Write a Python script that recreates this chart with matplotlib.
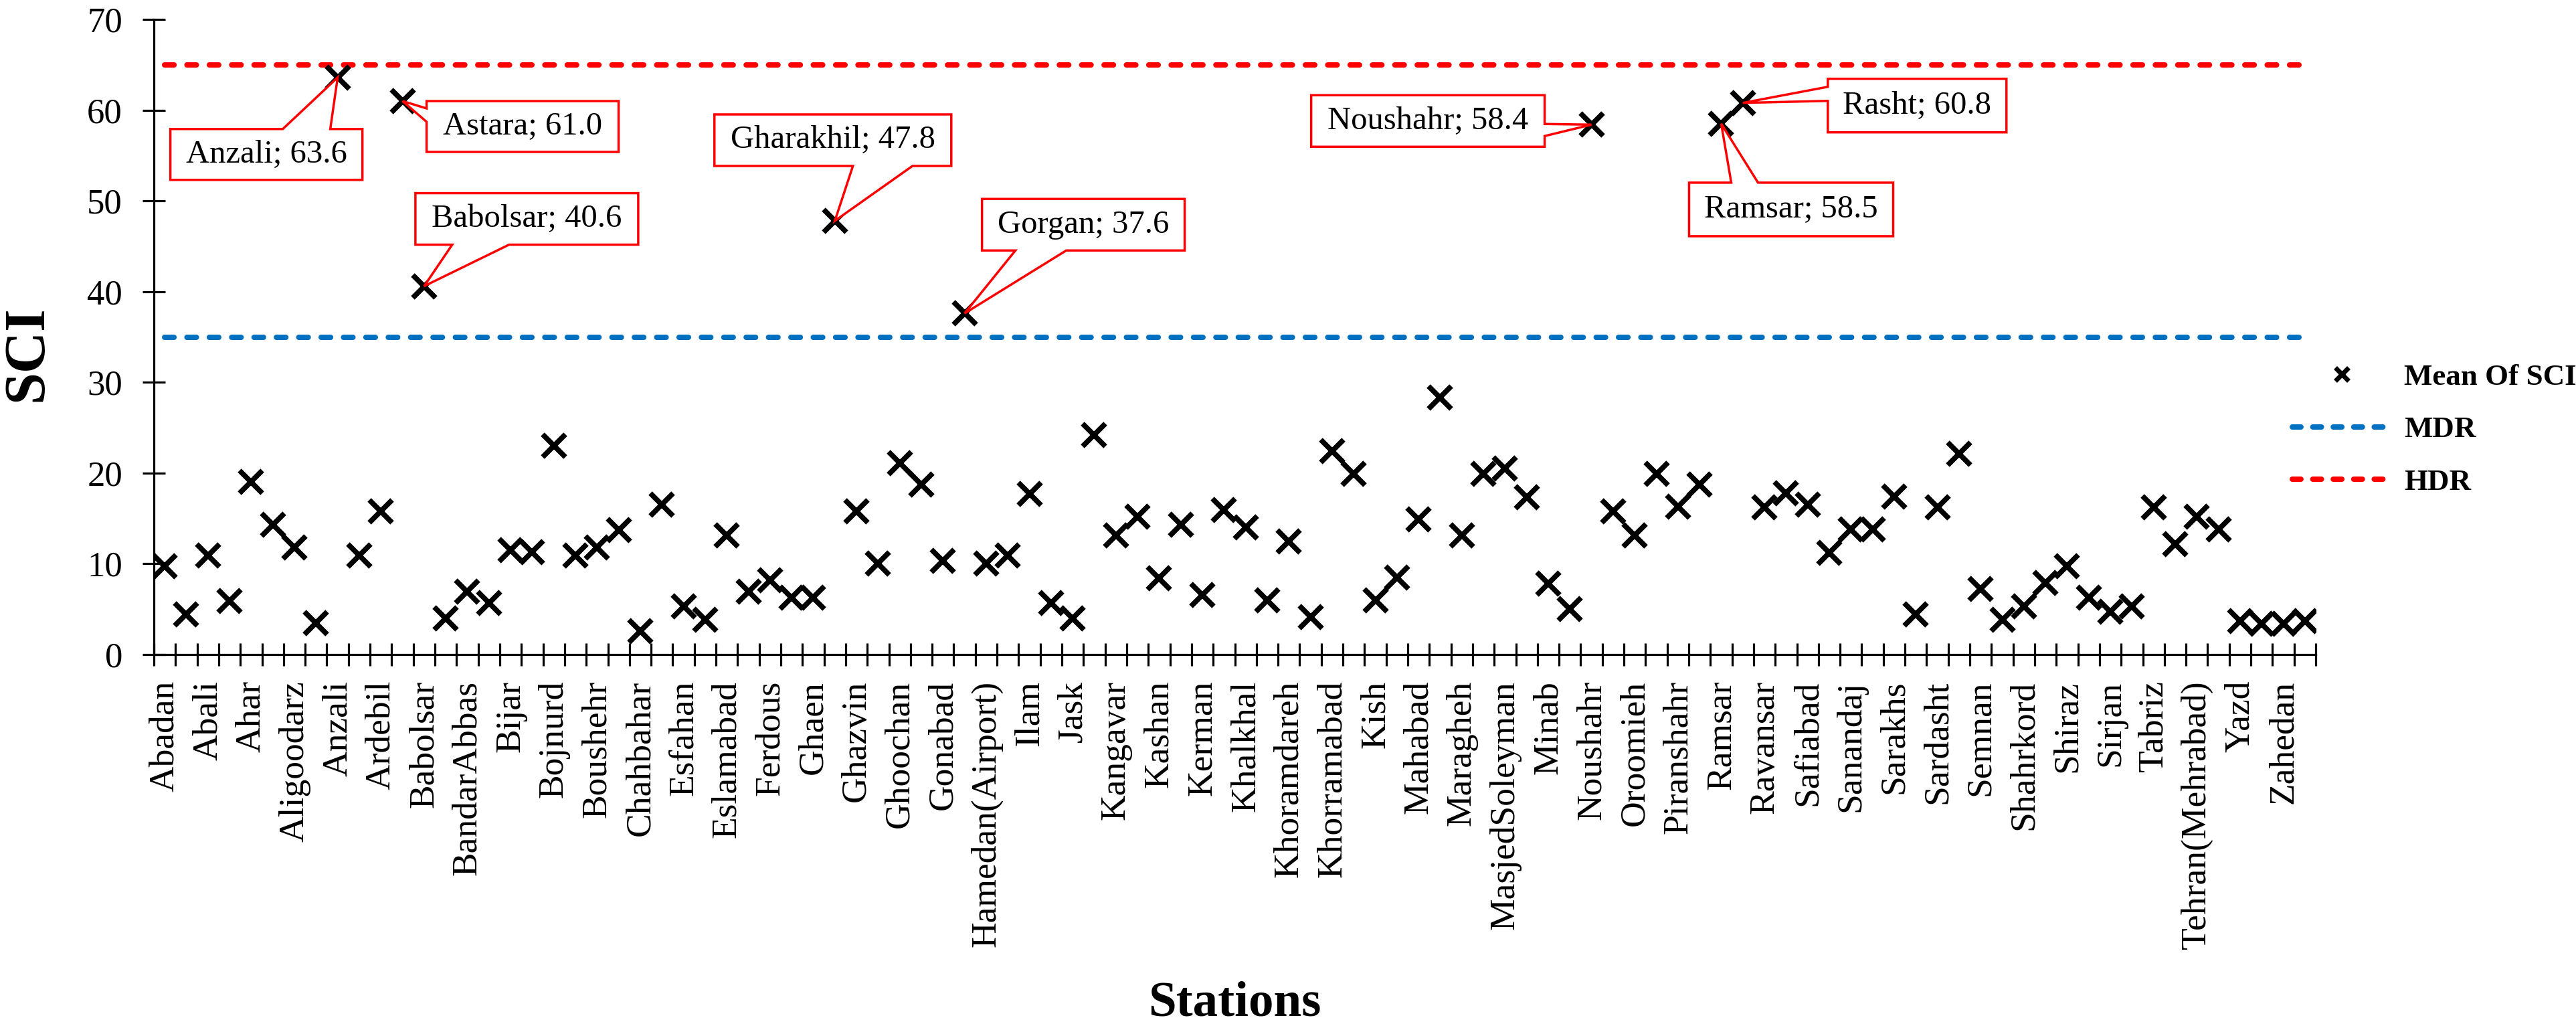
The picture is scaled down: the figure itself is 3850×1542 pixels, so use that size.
import matplotlib
matplotlib.use('Agg')
import matplotlib.pyplot as plt
from matplotlib.lines import Line2D
from matplotlib.patches import Polygon
import numpy as np

# ---------------- data ----------------
stations = [
    "Abadan", "Abadeh", "Abali", "Aghajari", "Ahar", "Ahvaz", "Aligoodarz", "Anar",
    "Anzali", "Arak", "Ardebil", "Astara", "Babolsar", "Bam", "BandarAbbas", "BandarLengeh",
    "Bijar", "Birjand", "Bojnurd", "Borujerd", "Boushehr", "Bushehr(Coastal)", "Chahbahar", "Dezful",
    "Esfahan", "Esfarayen", "Eslamabad", "Fasa", "Ferdous", "Firoozkooh", "Ghaen", "Gharakhil",
    "Ghazvin", "Gheshm", "Ghoochan", "Golmakan", "Gonabad", "Gorgan", "Hamedan(Airport)", "Hamedan(Nojeh)",
    "Ilam", "Iranshahr", "Jask", "Kahnuj", "Kangavar", "Karaj", "Kashan", "Kashmar",
    "Kerman", "Kermanshah", "Khalkhal", "Khash", "Khoramdareh", "Khorasan", "Khorramabad", "Khoy",
    "Kish", "Lar", "Mahabad", "Mahshahr", "Maragheh", "Marivan", "MasjedSoleyman", "Miandoab",
    "Minab", "Nehbandan", "Noushahr", "Omidiyeh", "Oroomieh", "Parsabad", "Piranshahr", "Ramhormoz",
    "Ramsar", "Rasht", "Ravansar", "Sabzevar", "Safiabad", "Saghez", "Sanandaj", "Sarab",
    "Sarakhs", "Saravan", "Sardasht", "Saveh", "Semnan", "Shahrbabak", "Shahrkord", "Shahroud",
    "Shiraz", "Siahbisheh", "Sirjan", "Tabas", "Tabriz", "Takab", "Tehran(Mehrabad)", "Torbat",
    "Yazd", "Zabol", "Zahedan", "Zanjan",
]
sci = [
    9.7, 4.4, 10.9, 5.9, 19.0, 14.3, 11.8, 3.5,
    63.6, 10.9, 15.8, 61.0, 40.6, 4.0, 6.9, 5.7,
    11.5, 11.3, 23.0, 10.9, 11.8, 13.7, 2.6, 16.5,
    5.3, 3.8, 13.1, 6.9, 8.2, 6.3, 6.3, 47.8,
    15.8, 10.0, 21.1, 18.7, 10.3, 37.6, 10.0, 10.9,
    17.7, 5.7, 4.0, 24.2, 13.1, 15.2, 8.4, 14.3,
    6.6, 15.9, 14.0, 6.0, 12.5, 4.1, 22.4, 19.9,
    6.0, 8.5, 14.9, 28.3, 13.1, 19.9, 20.5, 17.3,
    7.8, 5.0, 58.4, 15.8, 13.1, 19.9, 16.3, 18.7,
    58.5, 60.8, 16.2, 17.8, 16.5, 11.2, 13.8, 13.8,
    17.4, 4.4, 16.2, 22.1, 7.2, 3.8, 5.3, 7.9,
    9.7, 6.3, 4.7, 5.3, 16.2, 12.2, 15.2, 13.8,
    3.7, 3.4, 3.4, 3.7,
]
MDR = 35.0
HDR = 65.0
y_ticks = [0, 10, 20, 30, 40, 50, 60, 70]
series_names = ["Mean Of SCI", "MDR", "HDR"]

# ---------------- layout / style ----------------
W, H, DPI = 3850, 1542, 100
BLUE = "#0070C0"
RED = "#FF0000"
plt.rcParams['font.family'] = ['Liberation Serif', 'DejaVu Serif']

fig = plt.figure(figsize=(W / DPI, H / DPI), dpi=DPI)
ax_left, ax_right, ax_top, ax_bottom = 230, 3461, 29, 978
ax = fig.add_axes([ax_left / W, (H - ax_bottom) / H,
                   (ax_right - ax_left) / W, (ax_bottom - ax_top) / H])

x = np.arange(len(stations))
ax.set_xlim(-0.5, len(stations) - 0.5)
ax.set_ylim(y_ticks[0], y_ticks[-1])

line_lw = 5.8
dash = (0, (1.75, 2.4))
ax.plot([x[0], x[-1]], [MDR, MDR], color=BLUE, lw=line_lw, linestyle=dash,
        dash_capstyle='round', zorder=2)
ax.plot([x[0], x[-1]], [HDR, HDR], color=RED, lw=line_lw, linestyle=dash,
        dash_capstyle='round', zorder=2)
ax.plot(x, sci, linestyle='none', marker='x', ms=24, mew=5.6, color='black', zorder=3)

# axes styling
for s in ['top', 'right']:
    ax.spines[s].set_visible(False)
for s in ['left', 'bottom']:
    ax.spines[s].set_linewidth(2.3)
    ax.spines[s].set_color('black')

ax.set_xticks(np.arange(-0.5, len(stations)), minor=False)
ax.set_xticklabels([], minor=False)
ax.set_xticks(x[::2], minor=True)
ax.set_xticklabels(stations[::2], minor=True, rotation=90, fontsize=38.5)
ax.tick_params(axis='x', which='major', direction='inout', length=23.8, width=2.3)
ax.tick_params(axis='x', which='minor', length=0, pad=28)
ax.set_yticks(y_ticks)
ax.tick_params(axis='y', which='major', direction='inout', length=23.8, width=2.3,
               pad=22, labelsize=38)

ax.set_ylabel("SCI", fontsize=62, fontweight='bold')
ax.yaxis.set_label_coords((42 - ax_left) / (ax_right - ax_left),
                          (ax_bottom - 528) / (ax_bottom - ax_top))
ax.yaxis.label.set_va('center')
ax.set_xlabel("Stations", fontsize=54, fontweight='bold')
ax.xaxis.set_label_coords(0.5, (ax_bottom - 1518) / (ax_bottom - ax_top))
ax.xaxis.label.set_va('baseline')

# ---------------- callouts (pixel offsets from point: L, R, B, T; wedge side, a, b) -------------
callout_layout = {
    "Anzali":    ((-250, 37, -153, -77), ('top', -82, -11)),
    "Astara":    ((36, 323, -76, 0), ('left', -11, -31)),
    "Babolsar":  ((-13, 320, 62, 139), ('bottom', 42, 127)),
    "Gharakhil": ((-180, 174, 82, 159), ('bottom', 27, 116)),
    "Gorgan":    ((26, 329, 94, 171), ('bottom', 76, 152)),
    "Noushahr":  ((-419, -70, -33, 44), ('right', 1, -17)),
    "Ramsar":    ((-48, 257, -168, -88), ('top', 15, 55)),
    "Rasht":     ((127, 394, -44, 36), ('left', 24, 3)),
}
ppx = (ax_right - ax_left) / (len(stations))          # pixels per category
ppy = (ax_bottom - ax_top) / (y_ticks[-1] - y_ticks[0])  # pixels per SCI unit

for i, (name, val) in enumerate(zip(stations, sci)):
    if name not in callout_layout:
        continue
    (L, R, B, T), (side, a, b) = callout_layout[name]
    if side == 'top':
        pts = [(L, B), (R, B), (R, T), (b, T), (0, 0), (a, T), (L, T)]
    elif side == 'bottom':
        pts = [(L, B), (a, B), (0, 0), (b, B), (R, B), (R, T), (L, T)]
    elif side == 'left':
        pts = [(L, B), (R, B), (R, T), (L, T), (L, a), (0, 0), (L, b)]
    else:
        pts = [(L, B), (R, B), (R, b), (0, 0), (R, a), (R, T), (L, T)]
    verts = [(i + dx / ppx, val + dy / ppy) for dx, dy in pts]
    ax.add_patch(Polygon(verts, closed=True, facecolor='white', edgecolor=RED,
                         lw=2.5, joinstyle='miter', zorder=4))
    ax.text(i + (L + R) / 2 / ppx, val + (B + T) / 2 / ppy, f"{name}; {val:.1f}",
            ha='center', va='center', fontsize=35, zorder=5)

# ---------------- legend ----------------
handles = [
    Line2D([], [], linestyle='none', marker='x', ms=14, mew=5, color='black'),
    Line2D([], [], color=BLUE, lw=line_lw, linestyle=(0, (1.6, 2.2)), dash_capstyle='round'),
    Line2D([], [], color=RED, lw=line_lw, linestyle=(0, (1.6, 2.2)), dash_capstyle='round'),
]
ax.legend(handles, series_names, loc='upper left',
          bbox_to_anchor=(3426 / W, 1 - 543 / H), bbox_transform=fig.transFigure,
          frameon=False, prop={'weight': 'bold', 'size': 32.4},
          handlelength=3.3, handletextpad=0.42, labelspacing=0.85,
          borderpad=0, borderaxespad=0)

fig.savefig("out.png", dpi=DPI)
